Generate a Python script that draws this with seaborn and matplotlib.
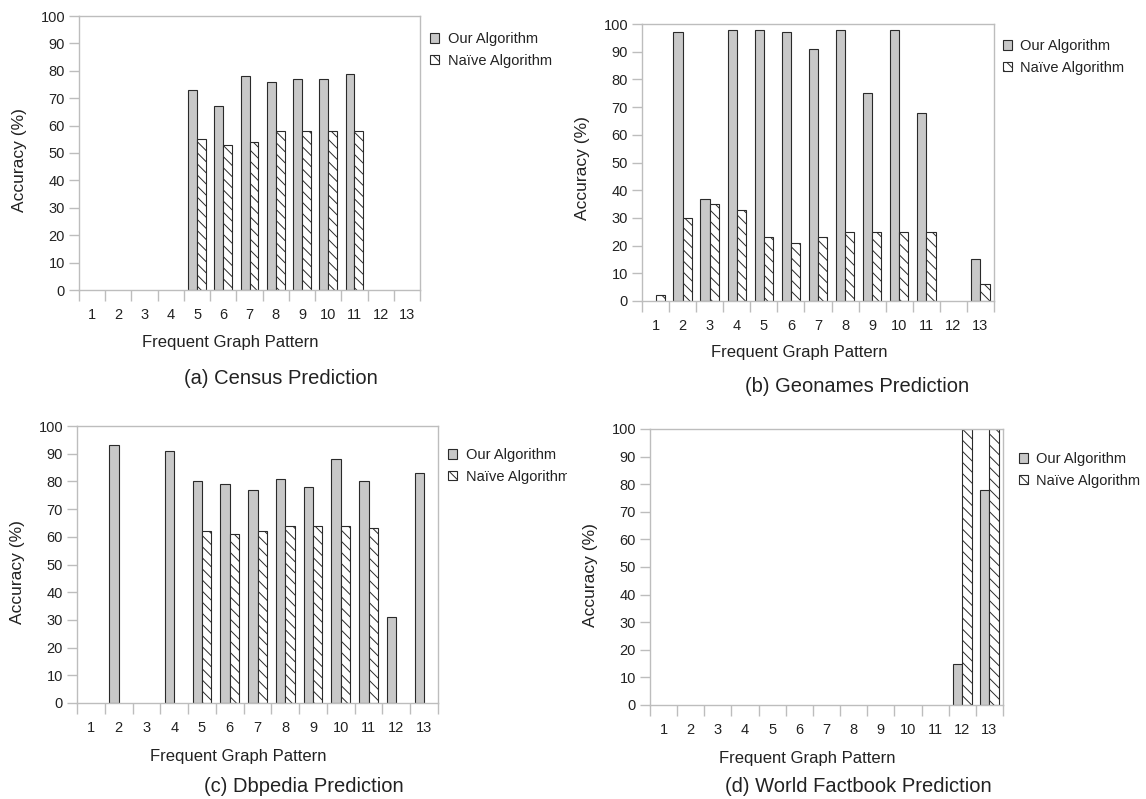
import numpy as np
import pandas as pd
import seaborn as sns
import matplotlib.pyplot as plt
from matplotlib.patches import Patch
from matplotlib.transforms import Bbox, TransformedBbox

N = np.nan

# x categories and series names
patterns = [str(i) for i in range(1, 14)]
algorithms = ["Our Algorithm", "Naïve Algorithm"]

# accuracy (%), NaN = no bar
census_ours = [N, N, N, N, 73, 67, 78, 76, 77, 77, 79, N, N]
census_naive = [N, N, N, N, 55, 53, 54, 58, 58, 58, 58, N, N]
geonames_ours = [N, 97, 37, 98, 98, 97, 91, 98, 75, 98, 68, N, 15]
geonames_naive = [2, 30, 35, 33, 23, 21, 23, 25, 25, 25, 25, N, 6]
dbpedia_ours = [N, 93, N, 91, 80, 79, 77, 81, 78, 88, 80, 31, 83]
dbpedia_naive = [N, N, N, N, 62, 61, 62, 64, 64, 64, 63, N, N]
factbook_ours = [N, N, N, N, N, N, N, N, N, N, N, 15, 78]
factbook_naive = [N, N, N, N, N, N, N, N, N, N, N, 100, 100]

captions = ["(a) Census Prediction", "(b) Geonames Prediction",
            "(c) Dbpedia Prediction", "(d) World Factbook Prediction"]

panels = [(census_ours, census_naive), (geonames_ours, geonames_naive),
          (dbpedia_ours, dbpedia_naive), (factbook_ours, factbook_naive)]

# pixel layout per panel: axes box (l, t, r, b), legend anchor, xlabel, ylabel, caption
layout = [
    dict(box=(79, 16, 420, 290), leg=(430, 50), xl=(230, 343), yl=(20, 160), cap=(281, 378), clip=None),
    dict(box=(642, 24, 994, 301), leg=(1003, 57), xl=(799, 352), yl=(583, 168), cap=(857, 386), clip=None),
    dict(box=(77, 426, 438, 703), leg=(448, 466), xl=(238, 756), yl=(18, 572), cap=(304, 787), clip=567),
    dict(box=(650, 429, 1003, 705), leg=(1019, 470), xl=(807, 758), yl=(590, 575), cap=(858, 786), clip=None),
]

GRAY = "#c8c8c8"
EDGE = "#2a2a2a"
SPINE = "#bdbdbd"
TEXT = "#222222"
HATCH = "\\\\\\"

sns.set_theme(style="ticks")
plt.rcParams["font.family"] = ["Liberation Sans", "DejaVu Sans"]
plt.rcParams["hatch.linewidth"] = 0.7
plt.rcParams["hatch.color"] = EDGE

W, H = 1146, 799
fig = plt.figure(figsize=(W / 100, H / 100), dpi=100)


def fx(x):
    return x / W


def fy(y):
    return 1 - y / H


for (ours, naive), caption, lay in zip(panels, captions, layout):
    l, t, r, b = lay["box"]
    ax = fig.add_axes([fx(l), fy(b), (r - l) / W, (b - t) / H])

    df = pd.DataFrame({
        "pattern": patterns * 2,
        "accuracy": ours + naive,
        "algorithm": [algorithms[0]] * len(patterns) + [algorithms[1]] * len(patterns),
    }).dropna()

    sns.barplot(data=df, x="pattern", y="accuracy", hue="algorithm",
                order=patterns, hue_order=algorithms,
                palette={algorithms[0]: GRAY, algorithms[1]: "white"},
                saturation=1, width=0.68, edgecolor=EDGE, linewidth=0.8,
                errorbar=None, legend=False, ax=ax)

    # hatch the naive bars
    for p in ax.patches:
        if tuple(np.round(p.get_facecolor()[:3], 3)) == (1.0, 1.0, 1.0):
            p.set_hatch(HATCH)

    ax.set_ylim(0, 100)
    ax.set_yticks(range(0, 101, 10))
    ax.set_xlim(-0.5, len(patterns) - 0.5)
    ax.set_xticks(np.arange(-0.5, len(patterns), 1), minor=True)
    ax.tick_params(axis="x", which="major", length=0, pad=13, labelsize=10.5, labelcolor=TEXT)
    ax.tick_params(axis="x", which="minor", length=8, width=1, color=SPINE)
    ax.tick_params(axis="y", length=7, width=1, color=SPINE, pad=3, labelsize=10.5, labelcolor=TEXT)
    for s in ax.spines.values():
        s.set_color(SPINE)
        s.set_linewidth(1)

    ax.set_xlabel("Frequent Graph Pattern", fontsize=12, color=TEXT)
    ax.set_ylabel("Accuracy (%)", fontsize=12.5, color=TEXT)
    ax.xaxis.set_label_coords(fx(lay["xl"][0]), fy(lay["xl"][1]), transform=fig.transFigure)
    ax.yaxis.set_label_coords(fx(lay["yl"][0]), fy(lay["yl"][1]), transform=fig.transFigure)
    ax.xaxis.label.set_va("center")
    ax.yaxis.label.set_va("center")

    handles = [Patch(facecolor=GRAY, edgecolor=EDGE, linewidth=0.8, label=algorithms[0]),
               Patch(facecolor="white", edgecolor=EDGE, linewidth=0.8, hatch=HATCH, label=algorithms[1])]
    leg = ax.legend(handles=handles, loc="center left",
                    bbox_to_anchor=(fx(lay["leg"][0]), fy(lay["leg"][1])),
                    bbox_transform=fig.transFigure, frameon=False,
                    borderpad=0, borderaxespad=0, handlelength=0.65, handleheight=0.65,
                    handletextpad=0.55, labelspacing=0.5, fontsize=10.5)
    for txt in leg.get_texts():
        txt.set_color(TEXT)
    if lay["clip"]:
        box = TransformedBbox(Bbox([[0, 0], [fx(lay["clip"]), 1]]), fig.transFigure)
        for txt in leg.get_texts():
            txt.set_clip_box(box)
            txt.set_clip_on(True)

    fig.text(fx(lay["cap"][0]), fy(lay["cap"][1]), caption, ha="center", va="center",
             fontsize=14.5, color=TEXT)

fig.savefig("out.png", dpi=100)
